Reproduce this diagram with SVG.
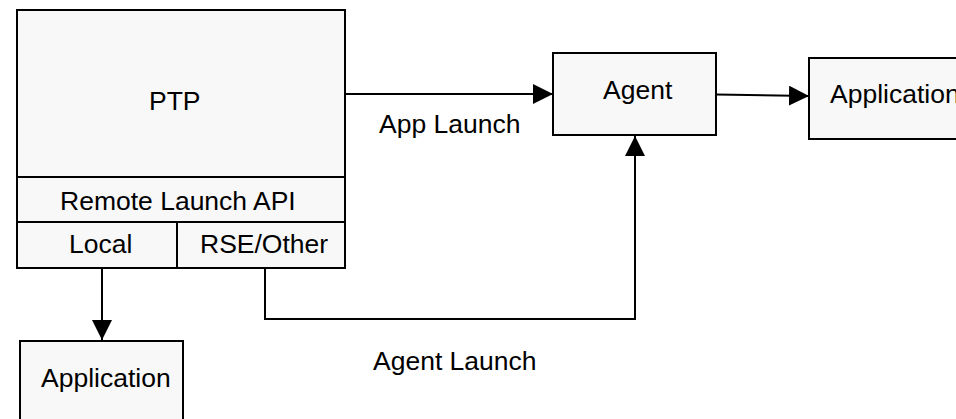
<svg xmlns="http://www.w3.org/2000/svg" width="956" height="419" viewBox="0 0 956 419">
<style>
.box{fill:#f8f8f8;stroke:#000;stroke-width:2}
.ln{fill:none;stroke:#000;stroke-width:2}
text{font-family:"Liberation Sans",Arial,sans-serif;font-size:26.5px;fill:#000}
</style>
<defs>
<marker id="ah" viewBox="0 0 20 20" refX="20" refY="10" markerWidth="20" markerHeight="20" markerUnits="userSpaceOnUse" orient="auto">
<path d="M0,0 L20,10 L0,20 Z" fill="#000"/>
</marker>
</defs>
<rect width="956" height="419" fill="#fff"/>
<g id="ptp">
<rect class="box" x="17" y="10" width="328" height="258"/>
<line class="ln" x1="17" y1="177" x2="345" y2="177"/>
<line class="ln" x1="17" y1="222" x2="345" y2="222"/>
<line class="ln" x1="177" y1="222" x2="177" y2="268"/>
<text x="149" y="110">PTP</text>
<text x="60" y="210">Remote Launch API</text>
<text x="69" y="253">Local</text>
<text x="200" y="253">RSE/Other</text>
</g>
<g id="agent">
<rect class="box" x="553" y="53" width="163" height="82"/>
<text x="603" y="99">Agent</text>
</g>
<g id="app-right">
<rect class="box" x="809" y="58" width="160" height="81"/>
<text x="830" y="103">Application</text>
</g>
<g id="app-bottom">
<rect class="box" x="20" y="341" width="163" height="90"/>
<text x="41" y="387">Application</text>
</g>
<g id="connectors">
<line class="ln" x1="345" y1="94" x2="553" y2="94" marker-end="url(#ah)"/>
<line class="ln" x1="716" y1="94.5" x2="809" y2="96" marker-end="url(#ah)"/>
<line class="ln" x1="102" y1="268" x2="102" y2="340" marker-end="url(#ah)"/>
<polyline class="ln" points="265,268 265,319 635,319 635,136" marker-end="url(#ah)"/>
<text x="379" y="133">App Launch</text>
<text x="373" y="370">Agent Launch</text>
</g>
</svg>
